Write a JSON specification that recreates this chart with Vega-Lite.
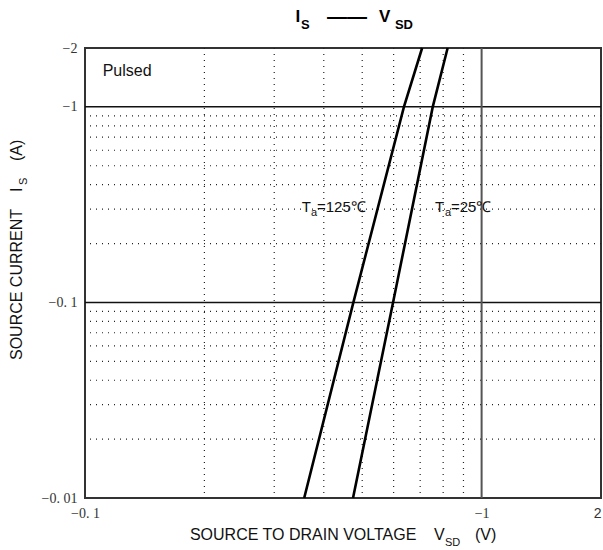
{
  "$schema": "https://vega.github.io/schema/vega-lite/v6.json",
  "width": 516,
  "height": 450,
  "autosize": "none",
  "padding": {"left": 85, "top": 48, "right": 2, "bottom": 52},
  "background": "white",
  "config": {
    "view": {"stroke": "#333", "strokeWidth": 2},
    "font": "Liberation Sans"
  },
  "layer": [
    {
      "data": {"values": [{"V": 0.2}, {"V": 0.3}, {"V": 0.4}, {"V": 0.5}, {"V": 0.6}, {"V": 0.7}, {"V": 0.8}, {"V": 0.9}]},
      "mark": {"type": "rule", "color": "#222", "strokeWidth": 1.2, "strokeDash": [1, 5]},
      "encoding": {
        "x": {"field": "V", "type": "quantitative", "scale": {"type": "log", "domain": [0.1, 2]}}
      }
    },
    {
      "data": {"values": [
        {"I": 0.02}, {"I": 0.03}, {"I": 0.04}, {"I": 0.05}, {"I": 0.06}, {"I": 0.07}, {"I": 0.08}, {"I": 0.09},
        {"I": 0.2}, {"I": 0.3}, {"I": 0.4}, {"I": 0.5}, {"I": 0.6}, {"I": 0.7}, {"I": 0.8}, {"I": 0.9}
      ]},
      "mark": {"type": "rule", "color": "#222", "strokeWidth": 1.2, "strokeDash": [1, 5]},
      "encoding": {
        "y": {"field": "I", "type": "quantitative", "scale": {"type": "log", "domain": [0.01, 2]}}
      }
    },
    {
      "data": {"values": [{"I": 0.1}, {"I": 1}]},
      "mark": {"type": "rule", "color": "#111", "strokeWidth": 1.5},
      "encoding": {
        "y": {"field": "I", "type": "quantitative", "scale": {"type": "log", "domain": [0.01, 2]}}
      }
    },
    {
      "data": {"values": [{"V": 1}]},
      "mark": {"type": "rule", "color": "#555", "strokeWidth": 2},
      "encoding": {
        "x": {"field": "V", "type": "quantitative", "scale": {"type": "log", "domain": [0.1, 2]}}
      }
    },
    {
      "data": {"values": [
        {"Ta": "125", "V": 0.357, "I": 0.01},
        {"Ta": "125", "V": 0.475, "I": 0.1},
        {"Ta": "125", "V": 0.637, "I": 1},
        {"Ta": "125", "V": 0.708, "I": 2},
        {"Ta": "25", "V": 0.474, "I": 0.01},
        {"Ta": "25", "V": 0.598, "I": 0.1},
        {"Ta": "25", "V": 0.753, "I": 1},
        {"Ta": "25", "V": 0.821, "I": 2}
      ]},
      "mark": {"type": "line", "color": "#000", "strokeWidth": 2.6},
      "encoding": {
        "x": {
          "field": "V", "type": "quantitative",
          "scale": {"type": "log", "domain": [0.1, 2]},
          "axis": {
            "values": [0.1, 1, 2],
            "labelExpr": "datum.value == 2 ? '2' : datum.value == 1 ? '−1' : '−0. 1'",
            "title": null, "ticks": false, "domain": false, "grid": false,
            "labelFlush": false, "labelOverlap": false,
            "labelFont": {"condition": {"test": "datum.value == 2", "value": "Liberation Sans"}, "value": "Liberation Serif"},
            "labelAlign": {"condition": {"test": "datum.value == 2", "value": "right"}, "value": "center"},
            "labelFontSize": 14, "labelColor": "#333", "labelPadding": 8
          }
        },
        "y": {
          "field": "I", "type": "quantitative",
          "scale": {"type": "log", "domain": [0.01, 2]},
          "axis": {
            "values": [0.01, 0.1, 1, 2],
            "labelExpr": "datum.value == 2 ? '−2' : datum.value == 1 ? '−1' : datum.value == 0.1 ? '−0. 1' : '−0. 01'",
            "title": null, "ticks": false, "domain": false, "grid": false,
            "labelOverlap": false, "labelFont": "Liberation Serif",
            "labelFontSize": 14, "labelColor": "#333", "labelPadding": 8
          }
        },
        "detail": {"field": "Ta", "type": "nominal"}
      }
    },
    {
      "data": {"values": [
        {"V": 0.1108, "I": 1.53, "t": "Pulsed"},
        {"V": 0.1839, "I": 0.006468, "t": "SOURCE TO DRAIN VOLTAGE"},
        {"V": 0.7586, "I": 0.006468, "t": "V"},
        {"V": 0.9624, "I": 0.006468, "t": "(V)"}
      ]},
      "mark": {"type": "text", "align": "left", "baseline": "middle", "fontSize": 16, "color": "#111"},
      "encoding": {
        "x": {"field": "V", "type": "quantitative", "scale": {"type": "log", "domain": [0.1, 2]}},
        "y": {"field": "I", "type": "quantitative", "scale": {"type": "log", "domain": [0.01, 2]}},
        "text": {"field": "t"}
      }
    },
    {
      "data": {"values": [
        {"V": 0.3519, "I": 0.3074, "t": "T"},
        {"V": 0.3846, "I": 0.3074, "t": "=125℃"},
        {"V": 0.763, "I": 0.3074, "t": "T"},
        {"V": 0.8372, "I": 0.3074, "t": "=25℃"}
      ]},
      "mark": {"type": "text", "align": "left", "baseline": "middle", "fontSize": 15, "color": "#111"},
      "encoding": {
        "x": {"field": "V", "type": "quantitative", "scale": {"type": "log", "domain": [0.1, 2]}},
        "y": {"field": "I", "type": "quantitative", "scale": {"type": "log", "domain": [0.01, 2]}},
        "text": {"field": "t"}
      }
    },
    {
      "data": {"values": [
        {"V": 0.3713, "I": 0.2865, "t": "a"},
        {"V": 0.8087, "I": 0.2865, "t": "a"},
        {"V": 0.8087, "I": 0.005888, "t": "SD"}
      ]},
      "mark": {"type": "text", "align": "left", "baseline": "middle", "fontSize": 11, "color": "#111"},
      "encoding": {
        "x": {"field": "V", "type": "quantitative", "scale": {"type": "log", "domain": [0.1, 2]}},
        "y": {"field": "I", "type": "quantitative", "scale": {"type": "log", "domain": [0.01, 2]}},
        "text": {"field": "t"}
      }
    },
    {
      "data": {"values": [
        {"V": 0.0674, "I": 0.05075, "t": "SOURCE CURRENT"},
        {"V": 0.0674, "I": 0.3667, "t": "I"},
        {"V": 0.0674, "I": 0.5283, "t": "(A)"}
      ]},
      "mark": {"type": "text", "align": "left", "baseline": "middle", "fontSize": 16, "angle": 270, "color": "#111"},
      "encoding": {
        "x": {"field": "V", "type": "quantitative", "scale": {"type": "log", "domain": [0.1, 2]}},
        "y": {"field": "I", "type": "quantitative", "scale": {"type": "log", "domain": [0.01, 2]}},
        "text": {"field": "t"}
      }
    },
    {
      "data": {"values": [
        {"V": 0.0702, "I": 0.3983, "t": "S"}
      ]},
      "mark": {"type": "text", "align": "left", "baseline": "middle", "fontSize": 11, "angle": 270, "color": "#111"},
      "encoding": {
        "x": {"field": "V", "type": "quantitative", "scale": {"type": "log", "domain": [0.1, 2]}},
        "y": {"field": "I", "type": "quantitative", "scale": {"type": "log", "domain": [0.01, 2]}},
        "text": {"field": "t"}
      }
    },
    {
      "data": {"values": [
        {"V": 0.3396, "I": 2.878, "t": "I"},
        {"V": 0.5511, "I": 2.878, "t": "V"}
      ]},
      "mark": {"type": "text", "align": "left", "baseline": "middle", "fontSize": 17, "fontWeight": "bold", "color": "#000"},
      "encoding": {
        "x": {"field": "V", "type": "quantitative", "scale": {"type": "log", "domain": [0.1, 2]}},
        "y": {"field": "I", "type": "quantitative", "scale": {"type": "log", "domain": [0.01, 2]}},
        "text": {"field": "t"}
      }
    },
    {
      "data": {"values": [
        {"V": 0.4076, "I": 2.878, "t": "——"}
      ]},
      "mark": {"type": "text", "align": "left", "baseline": "middle", "fontSize": 20, "fontWeight": "bold", "color": "#000"},
      "encoding": {
        "x": {"field": "V", "type": "quantitative", "scale": {"type": "log", "domain": [0.1, 2]}},
        "y": {"field": "I", "type": "quantitative", "scale": {"type": "log", "domain": [0.01, 2]}},
        "text": {"field": "t"}
      }
    },
    {
      "data": {"values": [
        {"V": 0.3505, "I": 2.619, "t": "S"},
        {"V": 0.6046, "I": 2.619, "t": "SD"}
      ]},
      "mark": {"type": "text", "align": "left", "baseline": "middle", "fontSize": 13, "fontWeight": "bold", "color": "#000"},
      "encoding": {
        "x": {"field": "V", "type": "quantitative", "scale": {"type": "log", "domain": [0.1, 2]}},
        "y": {"field": "I", "type": "quantitative", "scale": {"type": "log", "domain": [0.01, 2]}},
        "text": {"field": "t"}
      }
    }
  ]
}
